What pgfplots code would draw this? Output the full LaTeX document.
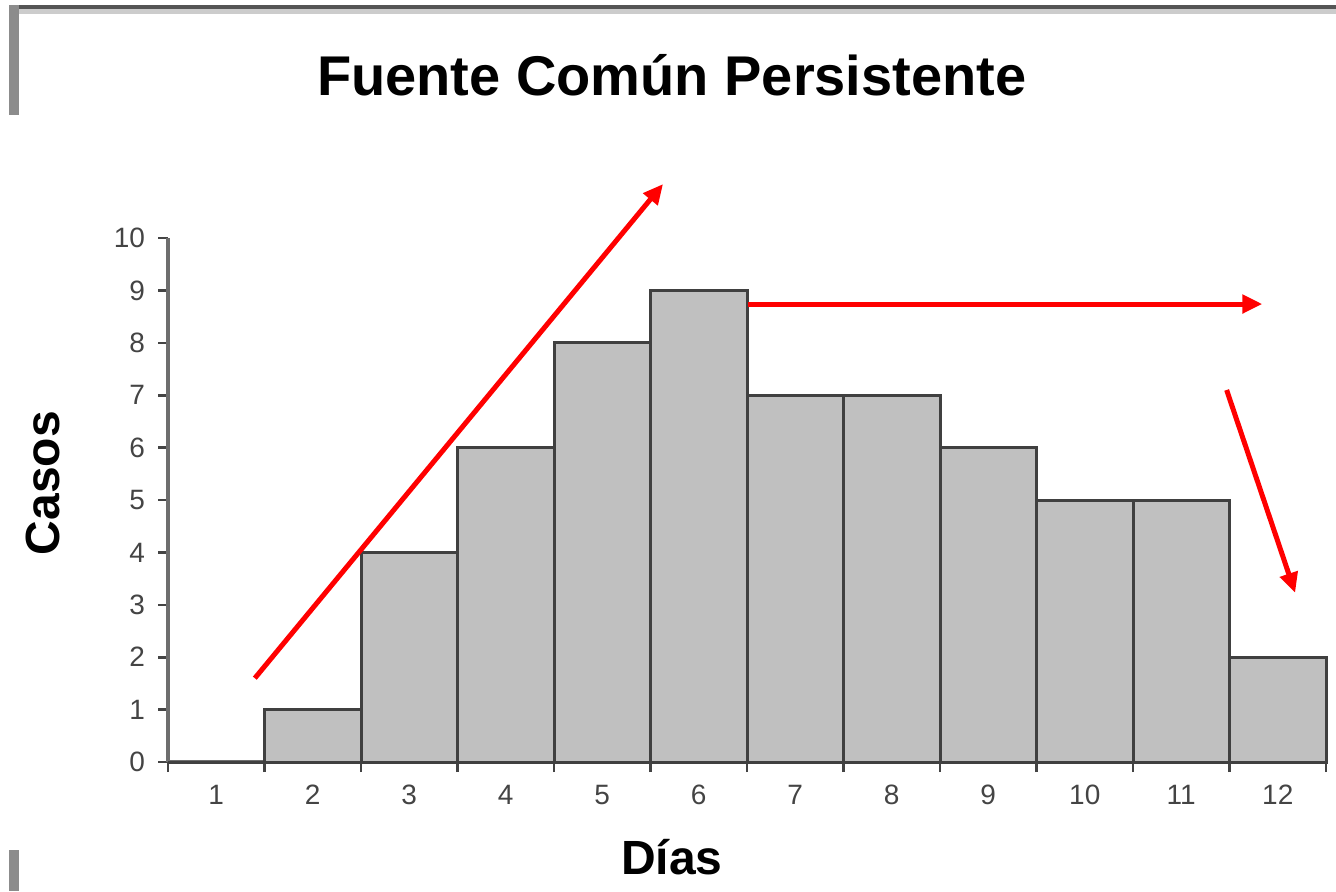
\documentclass[border=0pt]{standalone}
\usepackage{fontspec}
\setmainfont{Liberation Sans}
\usepackage{pgfplots}
\pgfplotsset{compat=1.18}
\usetikzlibrary{arrows.meta}
\definecolor{barfill}{HTML}{C0C0C0}
\definecolor{bardraw}{HTML}{404040}
\definecolor{axgray}{HTML}{6E6E6E}
\definecolor{tickgray}{HTML}{444444}
\definecolor{framedark}{HTML}{555555}
\definecolor{framelight}{HTML}{CCCCCC}
\definecolor{framebar}{HTML}{8C8C8C}
\begin{document}
\begin{tikzpicture}
\path[use as bounding box] (0,0) rectangle (668pt,445.5pt);
\fill[framedark] (4.5pt,440.75pt) rectangle (668pt,443pt);
\fill[framelight] (9.5pt,438.5pt) rectangle (668pt,440.75pt);
\fill[framebar] (4.5pt,388pt) rectangle (9.5pt,443pt);
\fill[framebar] (4.5pt,0pt) rectangle (9.5pt,20.5pt);
\begin{axis}[
  at={(84pt,64.5pt)}, anchor=south west,
  scale only axis, width=579pt, height=262pt,
  xmin=0.5, xmax=12.5, ymin=0, ymax=10,
  axis x line=bottom, axis y line=left,
  axis line style={-, color=axgray, line width=2pt},
  clip=false,
  xtick={0.5,1.5,2.5,3.5,4.5,5.5,6.5,7.5,8.5,9.5,10.5,11.5,12.5},
  x tick label as interval,
  xticklabels={1,2,3,4,5,6,7,8,9,10,11,12},
  ytick={0,1,2,3,4,5,6,7,8,9,10},
  tick align=outside, major tick length=5pt,
  tick style={color=tickgray, line width=1.3pt},
  /pgf/number format/assume math mode=true,
  yticklabel style={font=\fontsize{14}{16}\selectfont, color=tickgray, xshift=-3pt},
  xticklabel style={font=\fontsize{14}{16}\selectfont, color=tickgray, yshift=-3pt},
  title={Fuente Común Persistente},
  title style={at={(rel axis cs:0.435,1.250)}, anchor=base, yshift=0pt, font=\bfseries\fontsize{28}{32}\selectfont},
  xlabel={Días},
  xlabel style={at={(rel axis cs:0.435,-0.2156)}, anchor=base, font=\bfseries\fontsize{24}{28}\selectfont},
  ylabel={Casos},
  ylabel style={at={(rel axis cs:-0.0933,0.532)}, rotate=0, anchor=base, font=\bfseries\fontsize{24}{28}\selectfont},
]
\addplot[ybar interval, fill=barfill, draw=bardraw, line width=1.5pt]
  coordinates {(0.5,0) (1.5,1) (2.5,4) (3.5,6) (4.5,8) (5.5,9) (6.5,7) (7.5,7) (8.5,6) (9.5,5) (10.5,5) (11.5,2) (12.5,2)};
\draw[red, line width=2.5pt, -{Triangle[length=10pt,width=9pt]}] (axis cs:1.40,1.60) -- (axis cs:5.63,11.03);
\draw[red, line width=2.5pt, -{Triangle[length=10pt,width=9pt]}] (axis cs:6.51,8.74) -- (axis cs:11.84,8.74);
\draw[red, line width=2.5pt, -{Triangle[length=10pt,width=9pt]}] (axis cs:11.47,7.10) -- (axis cs:12.18,3.23);
\end{axis}
\end{tikzpicture}
\end{document}
